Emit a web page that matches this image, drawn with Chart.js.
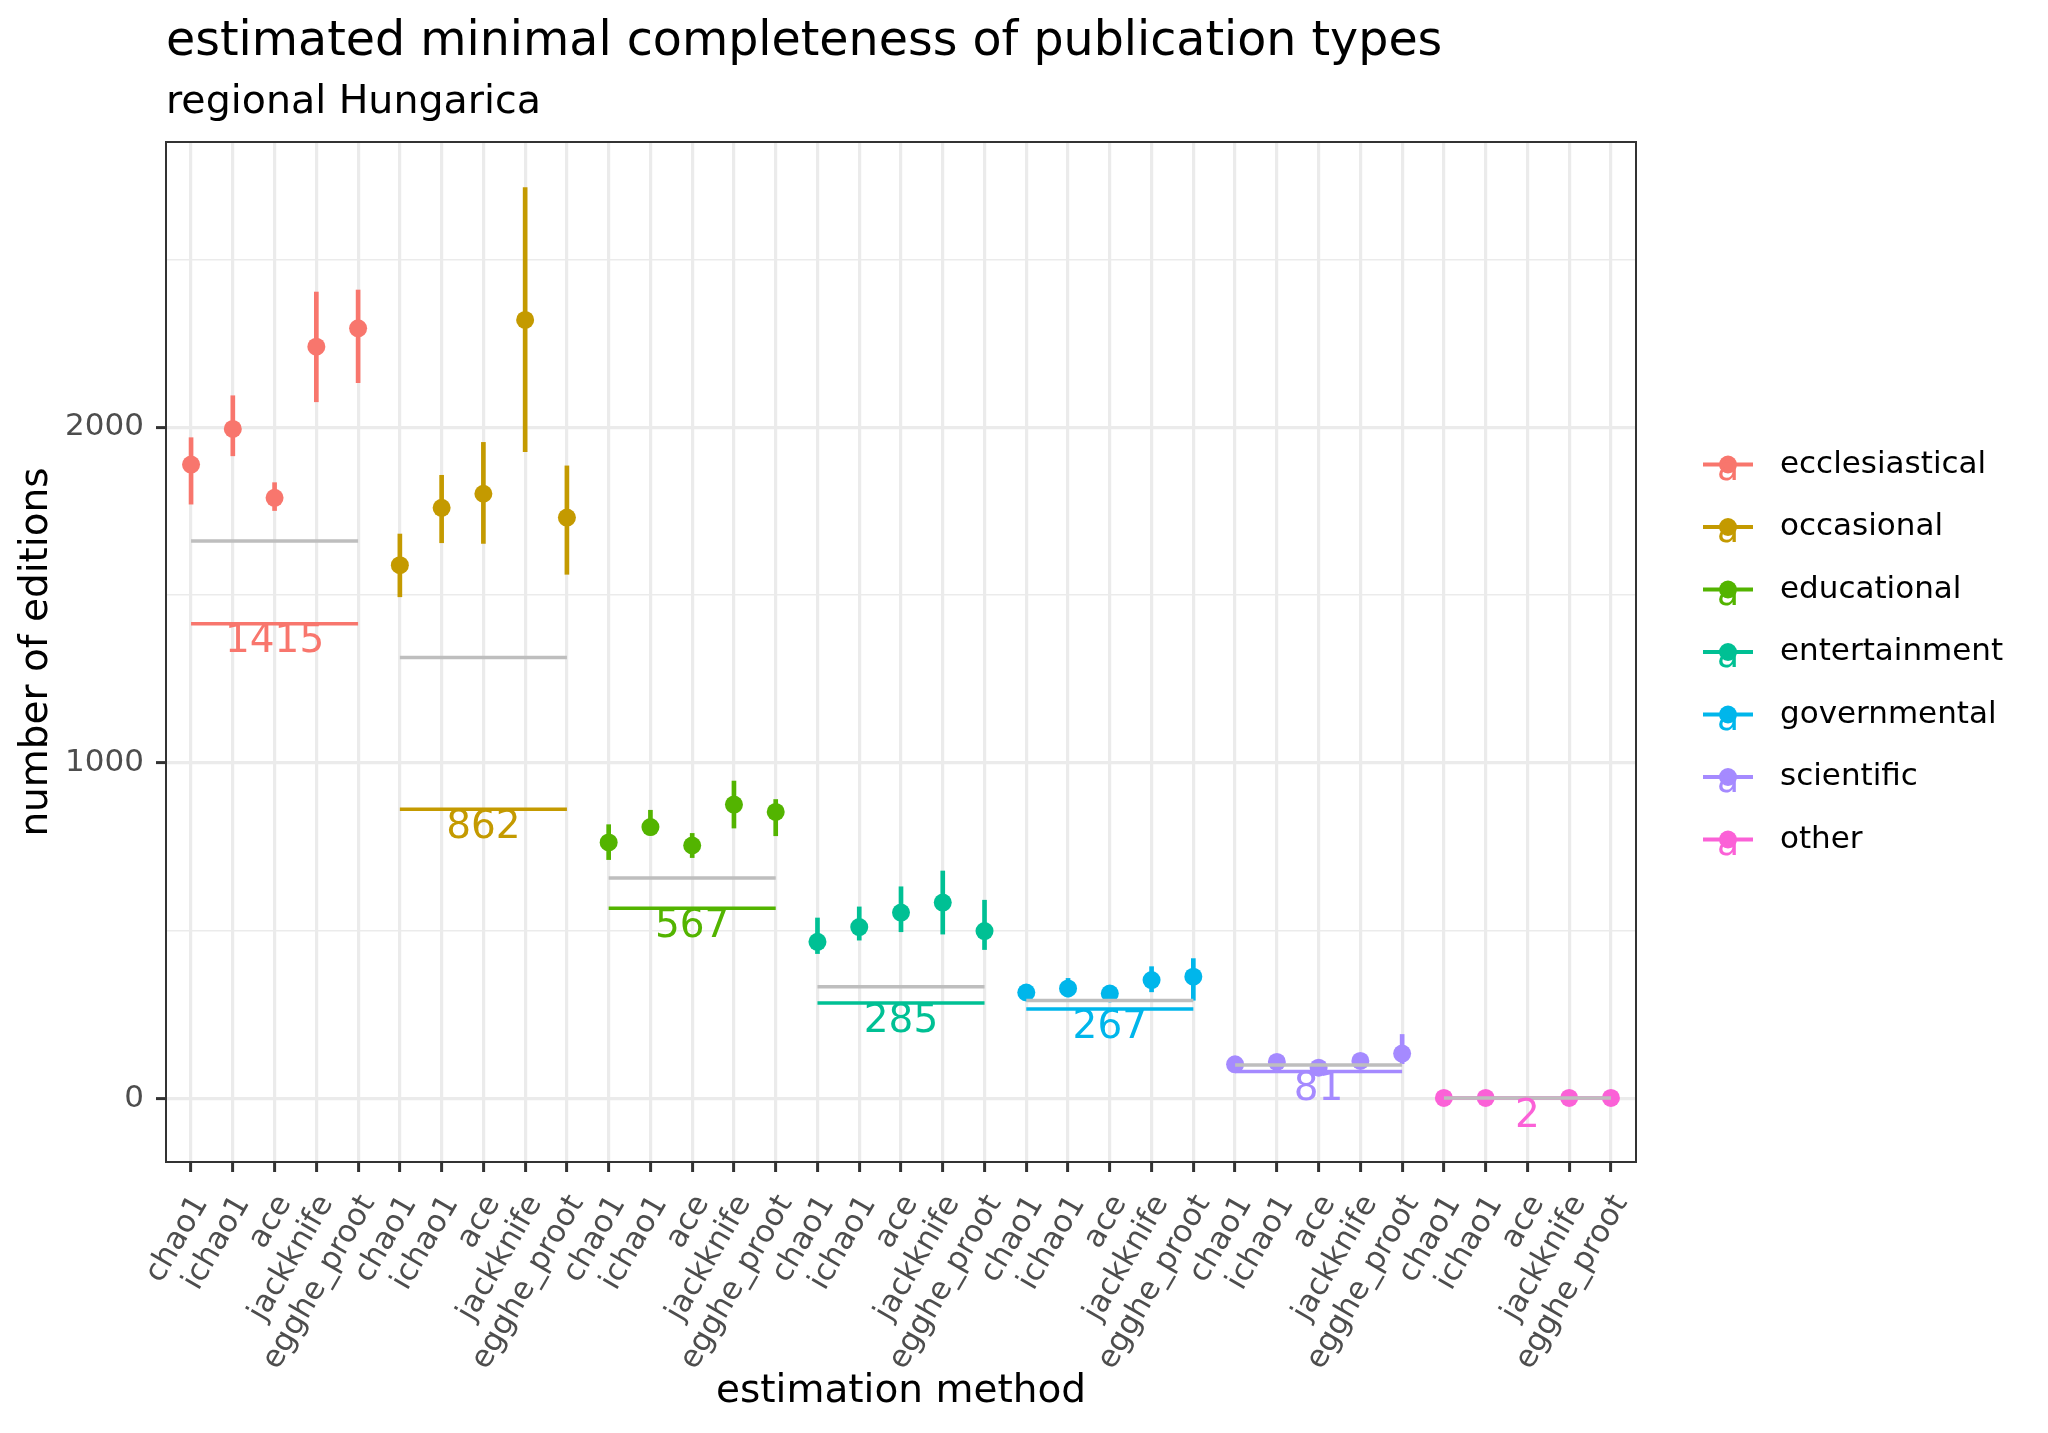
<!DOCTYPE html>
<html>
<head>
<meta charset="utf-8">
<script src="https://cdn.jsdelivr.net/npm/chart.js@4.4.0/dist/chart.umd.min.js"></script>
<style>
  html, body { margin: 0; padding: 0; background: #fff; }
  #wrap { width: 2048px; height: 1433px; }
</style>
</head>
<body>
<div id="wrap"><canvas id="chart" width="2048" height="1433"></canvas></div>
<script>
// estimation methods, repeated once per publication type on the x axis
var methods = ['chao1', 'ichao1', 'ace', 'jackknife', 'egghe_proot'];
var types = ['ecclesiastical', 'occasional', 'educational', 'entertainment', 'governmental', 'scientific', 'other'];
var colors = ['#F8766D', '#C49A00', '#53B400', '#00C094', '#00B6EB', '#A58AFF', '#FB61D7'];

// point estimates and their intervals, one row per type, one column per method
var estimates = [
  [1889, 1995, 1790, 2240, 2295],
  [1589, 1760, 1802, 2320, 1731],
  [763, 809, 754, 876, 854],
  [467, 511, 554, 584, 499],
  [316, 328, 313, 353, 363],
  [102, 109, 92, 112, 134],
  [2, 2, null, 2, 2]
];
var lowers = [
  [1771, 1915, 1752, 2076, 2133],
  [1495, 1656, 1654, 1927, 1562],
  [712, 785, 718, 806, 783],
  [432, 472, 497, 490, 444],
  [308, 303, 305, 318, 293],
  [96, 100, 86, 104, 104],
  [2, 2, null, 2, 2]
];
var uppers = [
  [1969, 2094, 1835, 2403, 2409],
  [1682, 1857, 1955, 2714, 1885],
  [816, 859, 790, 946, 891],
  [538, 571, 631, 678, 591],
  [324, 358, 321, 393, 417],
  [108, 118, 98, 120, 191],
  [2, 2, null, 2, 2]
];
// observed number of editions (coloured line + label) and the grey reference line
var observed = [1415, 862, 567, 285, 267, 81, 2];
var reference = [1661, 1314, 657, 333, 292, 100, 2];

// y grid: labelled major ticks and unlabelled minor lines
var yTicks = [0, 1000, 2000];
var yMinor = [500, 1500, 2500];

var tickLabels = [];
types.forEach(function () { methods.forEach(function (m) { tickLabels.push(m); }); });

Chart.defaults.font.family = 'DejaVu Sans';

var datasets = [];
types.forEach(function (t, i) {
  var xs = methods.map(function (m, j) { return i * methods.length + j; });
  datasets.push({
    type: 'line', label: t + ' reference',
    data: [{x: xs[0], y: reference[i]}, {x: xs[xs.length - 1], y: reference[i]}],
    borderColor: '#BEBEBE', borderWidth: 3.5, pointRadius: 0, fill: false, order: 0
  });
  datasets.push({
    type: 'line', label: t + ' observed',
    data: [{x: xs[0], y: observed[i]}, {x: xs[xs.length - 1], y: observed[i]}],
    borderColor: colors[i], borderWidth: 3.5, pointRadius: 0, fill: false, order: 1
  });
  datasets.push({
    type: 'scatter', label: t,
    data: xs.map(function (x, j) { return {x: x, y: estimates[i][j]}; })
            .filter(function (d) { return d.y !== null; }),
    backgroundColor: colors[i], borderWidth: 0, pointRadius: 9, order: 2
  });
  datasets.push({
    type: 'bar', label: t + ' interval',
    data: xs.map(function (x, j) { return {x: x, y: [lowers[i][j], uppers[i][j]]}; })
            .filter(function (d) { return d.y[0] !== null; }),
    backgroundColor: colors[i], barThickness: 4, grouped: false, order: 3
  });
});

// value labels under the coloured lines, title block, panel border, legend
var decorations = {
  id: 'decorations',
  afterDatasetsDraw: function (chart) {
    var ctx = chart.ctx, xs = chart.scales.x, ys = chart.scales.y, a = chart.chartArea;
    ctx.save();
    ctx.font = '39px "DejaVu Sans"';
    ctx.textAlign = 'center';
    ctx.textBaseline = 'middle';
    types.forEach(function (t, i) {
      ctx.fillStyle = colors[i];
      ctx.fillText(String(observed[i]), xs.getPixelForValue(i * methods.length + 2),
                   ys.getPixelForValue(observed[i]) + 18.5);
    });
    ctx.strokeStyle = '#333333';
    ctx.lineWidth = 2;
    ctx.strokeRect(a.left, a.top, a.right - a.left, a.bottom - a.top);
    ctx.restore();
  },
  afterDraw: function (chart) {
    var ctx = chart.ctx, a = chart.chartArea;
    ctx.save();
    ctx.fillStyle = '#000';
    ctx.textAlign = 'left';
    ctx.textBaseline = 'alphabetic';
    ctx.font = '47.5px "DejaVu Sans"';
    ctx.fillText('estimated minimal completeness of publication types', a.left, 55);
    ctx.font = '39.5px "DejaVu Sans"';
    ctx.fillText('regional Hungarica', a.left, 113);

    var y0 = (a.top + a.bottom) / 2 - 3 * 62.5;
    types.forEach(function (t, i) {
      var y = y0 + i * 62.5;
      ctx.strokeStyle = colors[i];
      ctx.lineWidth = 4;
      ctx.beginPath();
      ctx.moveTo(1703, y);
      ctx.lineTo(1753, y);
      ctx.stroke();
      ctx.fillStyle = colors[i];
      ctx.beginPath();
      ctx.arc(1728, y, 9, 0, Math.PI * 2);
      ctx.fill();
      ctx.font = '36px "DejaVu Sans"';
      ctx.textAlign = 'center';
      ctx.textBaseline = 'alphabetic';
      ctx.fillText('a', 1728, y + 15);
      ctx.fillStyle = '#000';
      ctx.font = '31px "DejaVu Sans"';
      ctx.textAlign = 'left';
      ctx.textBaseline = 'middle';
      ctx.fillText(t, 1780, y);
    });
    ctx.restore();
  }
};

new Chart(document.getElementById('chart').getContext('2d'), {
  type: 'scatter',
  data: { datasets: datasets },
  options: {
    responsive: false,
    devicePixelRatio: 1,
    animation: false,
    layout: { padding: { top: 142, right: 412, bottom: 0, left: 0 } },
    plugins: { legend: { display: false }, tooltip: { enabled: false } },
    scales: {
      x: {
        type: 'linear',
        min: -0.6,
        max: 34.6,
        offset: false,
        afterBuildTicks: function (s) {
          s.ticks = tickLabels.map(function (l, k) { return {value: k}; });
        },
        afterFit: function (s) { s.height = 271; },
        border: { display: false },
        grid: {
          offset: false,
          color: '#EBEBEB',
          lineWidth: 3.2,
          tickColor: '#333333',
          tickWidth: 3,
          tickLength: 10
        },
        ticks: {
          autoSkip: false,
          minRotation: 60,
          maxRotation: 60,
          padding: 17,
          labelOffset: 10,
          color: '#4D4D4D',
          font: { size: 31 },
          callback: function (v) { return tickLabels[v] !== undefined ? tickLabels[v] : ''; }
        },
        title: {
          display: true,
          text: 'estimation method',
          color: '#000',
          font: { size: 39 },
          padding: { top: 0, bottom: 18 }
        }
      },
      y: {
        type: 'linear',
        min: -189,
        max: 2850,
        beginAtZero: false,
        afterBuildTicks: function (s) {
          s.ticks = yTicks.concat(yMinor).sort(function (p, q) { return p - q; })
                          .map(function (v) { return {value: v}; });
        },
        afterFit: function (s) { s.width = 166; },
        border: { display: false },
        grid: {
          color: '#EBEBEB',
          lineWidth: function (c) { return yTicks.indexOf(c.tick.value) >= 0 ? 3.2 : 1.6; },
          tickColor: function (c) { return yTicks.indexOf(c.tick.value) >= 0 ? '#333333' : 'rgba(0,0,0,0)'; },
          tickWidth: 3,
          tickLength: 10
        },
        ticks: {
          autoSkip: false,
          padding: 12,
          color: '#4D4D4D',
          font: { size: 31 },
          callback: function (v) { return yTicks.indexOf(v) >= 0 ? String(v) : ''; }
        },
        title: {
          display: true,
          text: 'number of editions',
          color: '#000',
          font: { size: 39 },
          padding: { top: 13, bottom: 0 }
        }
      }
    }
  },
  plugins: [decorations]
});
</script>
</body>
</html>
